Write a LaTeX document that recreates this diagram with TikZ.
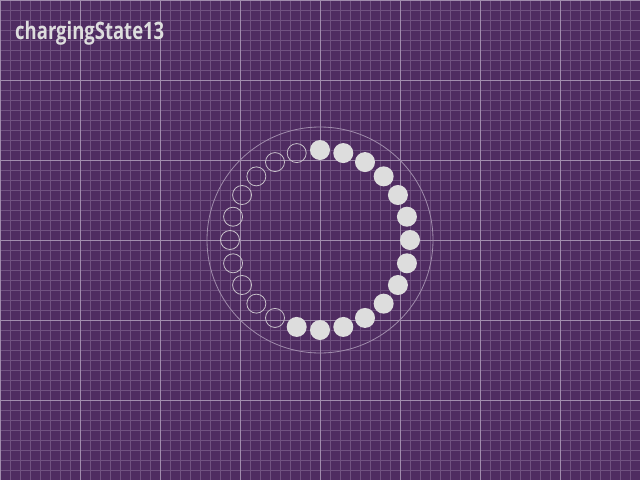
\documentclass[tikz,border=0pt]{standalone}
\usepackage{fontspec}
\newfontfamily\titlefont[FakeStretch=0.77]{Open Sans}
\usetikzlibrary{positioning, calc}
\definecolor{bgpurple}{RGB}{79,44,97}
\definecolor{minorline}{RGB}{112,82,128}
\definecolor{majorline}{RGB}{160,140,172}
\definecolor{dotgray}{RGB}{221,221,221}
\tikzset{
  dotfull/.style={circle, fill=dotgray, inner sep=0pt, minimum size=20pt},
  dotempty/.style={circle, draw=dotgray!85!bgpurple, line width=0.8pt, inner sep=0pt, minimum size=19pt},
  titletext/.style={anchor=base west, text=dotgray, font=\titlefont\bfseries\fontsize{24}{28}\selectfont, inner sep=0pt}
}
\begin{document}
\begin{tikzpicture}[x=1pt, y=-1pt]
  \fill[bgpurple] (0,0) rectangle (640,480);
  \useasboundingbox (0,0) rectangle (640,480);
  \begin{scope}[y=1pt]
    \draw[minorline, line width=0.6pt, step=10] (0,-479.5) grid (639.5,0);
    \draw[majorline, line width=0.8pt, step=80] (0,-479.5) grid (639.5,0);
  \end{scope}
  \node[titletext] (title) at (15,39) {chargingState13};
  \coordinate (centre) at (320,240);
  \draw[majorline, line width=0.8pt] (centre) circle[radius=113];
  \foreach \i in {0,...,23} {
    \ifnum\i<14
      \node[dotfull] (dot\i) at ($(centre)+({-90+15*\i}:90)$) {};
    \else
      \node[dotempty] (dot\i) at ($(centre)+({-90+15*\i}:90)$) {};
    \fi
  }
\end{tikzpicture}
\end{document}
